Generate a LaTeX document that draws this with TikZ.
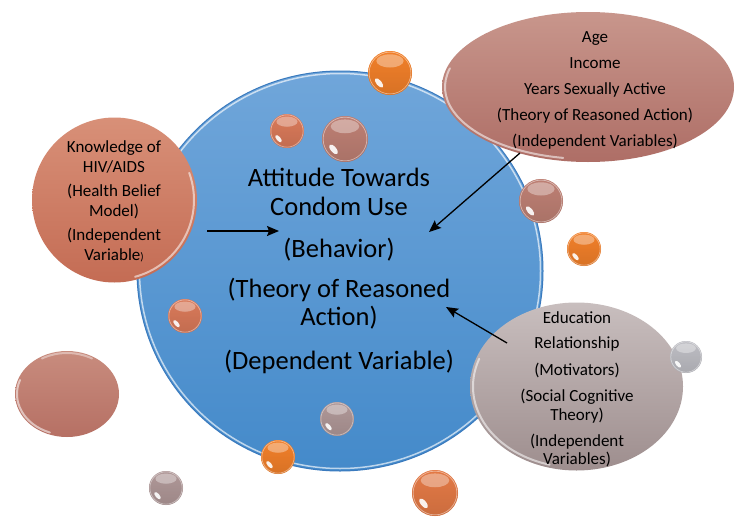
\documentclass[tikz,border=0pt]{standalone}
\usepackage{fontspec}
\setmainfont{Carlito}
\usetikzlibrary{shapes.geometric,arrows.meta}

\definecolor{skyTop}{RGB}{112,166,218}
\definecolor{skyBot}{RGB}{68,138,202}
\definecolor{skyRim}{RGB}{58,122,190}
\definecolor{clayTop}{RGB}{216,144,120}
\definecolor{clayBot}{RGB}{196,108,84}
\definecolor{roseTop}{RGB}{200,150,140}
\definecolor{roseBot}{RGB}{174,110,102}
\definecolor{ashTop}{RGB}{200,190,190}
\definecolor{ashBot}{RGB}{158,142,142}
\definecolor{discTop}{RGB}{200,140,126}
\definecolor{discBot}{RGB}{182,112,100}
\definecolor{beadOrange}{RGB}{242,128,42}
\definecolor{beadCopper}{RGB}{228,122,70}
\definecolor{beadSalmon}{RGB}{218,122,90}
\definecolor{beadRose}{RGB}{190,128,116}
\definecolor{beadMauve}{RGB}{176,152,152}
\definecolor{beadSilver}{RGB}{190,190,196}

\tikzset{
  bigtext/.style={font=\fontsize{26.5}{28.5}\selectfont, align=center, inner sep=0pt},
  smalltext/.style={font=\fontsize{17}{19.7}\selectfont, align=center, inner sep=0pt},
  link/.style={draw=black, line width=1.3pt, -{Stealth[length=12pt,width=10pt,inset=2pt]}},
  bubble/.style={ellipse, inner sep=0pt, draw=none},
  sheen/.style={draw=white, line width=2pt, opacity=.55, line cap=round},
}

% a small glossy bead: x, y, radius, colour
\newcommand\bead[4]{%
  \fill[#4] (#1,#2) circle[radius=#3];
  \shade[top color=#4, bottom color=#4!82!black, opacity=.6] (#1,#2) circle[radius=#3];
  \fill[white, opacity=.35] (#1,#2-0.55*#3) ellipse[x radius=0.62*#3, y radius=0.3*#3];
  \draw[white, opacity=.45, line width=.7pt] (#1,#2) circle[radius=0.95*#3];
  \fill[white, opacity=.9, rotate around={-50:(#1-0.5*#3,#2+0.45*#3)}]
    (#1-0.5*#3,#2+0.45*#3) ellipse[x radius=0.26*#3, y radius=0.12*#3];
}

\begin{document}
\begin{tikzpicture}[x=1pt,y=-1pt]
\useasboundingbox (0,0) rectangle (736,522);
\fill[white] (0,0) rectangle (736,522);

% central outcome circle
\node[bubble, minimum width=406pt, minimum height=400pt,
      top color=skyTop, bottom color=skyBot, draw=skyRim, line width=1pt] (core) at (340,271) {};
\draw[white, opacity=.65, line width=1.5pt] (core.center) ellipse[x radius=200.5, y radius=197.5];

% left predictor
\node[circle, inner sep=0pt, minimum size=165pt, top color=clayTop, bottom color=clayBot] (know) at (114.5,200) {};
\draw[sheen] (know.center) ++(-20:79.5) arc[start angle=-20, end angle=75, radius=79.5];

% upper right predictors
\node[bubble, minimum width=292pt, minimum height=150pt, top color=roseTop, bottom color=roseBot] (demo) at (588,87) {};
\draw[sheen] (demo.center) ++(100:143 and 72) arc[start angle=100, end angle=195, x radius=143, y radius=72];

% lower right predictors
\node[bubble, minimum width=213pt, minimum height=168pt, top color=ashTop, bottom color=ashBot] (motiv) at (576.5,386.5) {};
\draw[sheen] (motiv.center) ++(105:103.5 and 81) arc[start angle=105, end angle=200, x radius=103.5, y radius=81];

% flat disc at the left
\node[bubble, minimum width=104pt, minimum height=86pt, top color=discTop, bottom color=discBot] (disc) at (67,394) {};
\draw[sheen] (disc.center) ++(110:50 and 41) arc[start angle=110, end angle=200, x radius=50, y radius=41];
\draw[sheen, opacity=.4] (disc.center) ++(-120:50 and 41) arc[start angle=-120, end angle=-60, x radius=50, y radius=41];

% beads
\bead{390}{73}{22}{beadOrange}
\bead{287}{131}{17}{beadSalmon}
\bead{345}{139}{23}{beadRose}
\bead{541}{201}{22}{beadRose}
\bead{584}{249}{17}{beadOrange}
\bead{185}{316}{17}{beadSalmon}
\bead{686}{357}{16}{beadSilver}
\bead{337}{419}{17}{beadMauve}
\bead{278}{457}{17}{beadOrange}
\bead{435}{493}{23}{beadCopper}
\bead{166}{488}{17}{beadMauve}

% labels
\node[bigtext] (coreText) at (339,271) {Attitude Towards\\Condom Use\\[13.5pt](Behavior)\\[11.5pt](Theory of Reasoned\\Action)\\[15.5pt](Dependent Variable)};
\node[smalltext] (knowText) at (114,201.5) {Knowledge of\\HIV/AIDS\\[4.8pt](Health Belief\\Model)\\[4.8pt](Independent\\Variable{\fontsize{11}{13}\selectfont)}};
\node[smalltext, font=\fontsize{17}{26}\selectfont] (demoText) at (595,90.5) {Age\\Income\\Years Sexually Active\\(Theory of Reasoned Action)\\(Independent Variables)};
\node[smalltext, font=\fontsize{17}{18.5}\selectfont] (motivText) at (577,389.5) {Education\\[6.5pt]Relationship\\[8.5pt](Motivators)\\[7.5pt](Social Cognitive\\Theory)\\[7.5pt](Independent\\Variables)};

% connectors
\coordinate (knowTail) at (207,231);
\coordinate (knowHead) at (279,231);
\coordinate (demoTail) at (520,153);
\coordinate (demoHead) at (429,232);
\coordinate (motivTail) at (507,343);
\coordinate (motivHead) at (446,307);
\draw[link] (knowTail) -- (knowHead);
\draw[link] (demoTail) -- (demoHead);
\draw[link] (motivTail) -- (motivHead);
\end{tikzpicture}
\end{document}
